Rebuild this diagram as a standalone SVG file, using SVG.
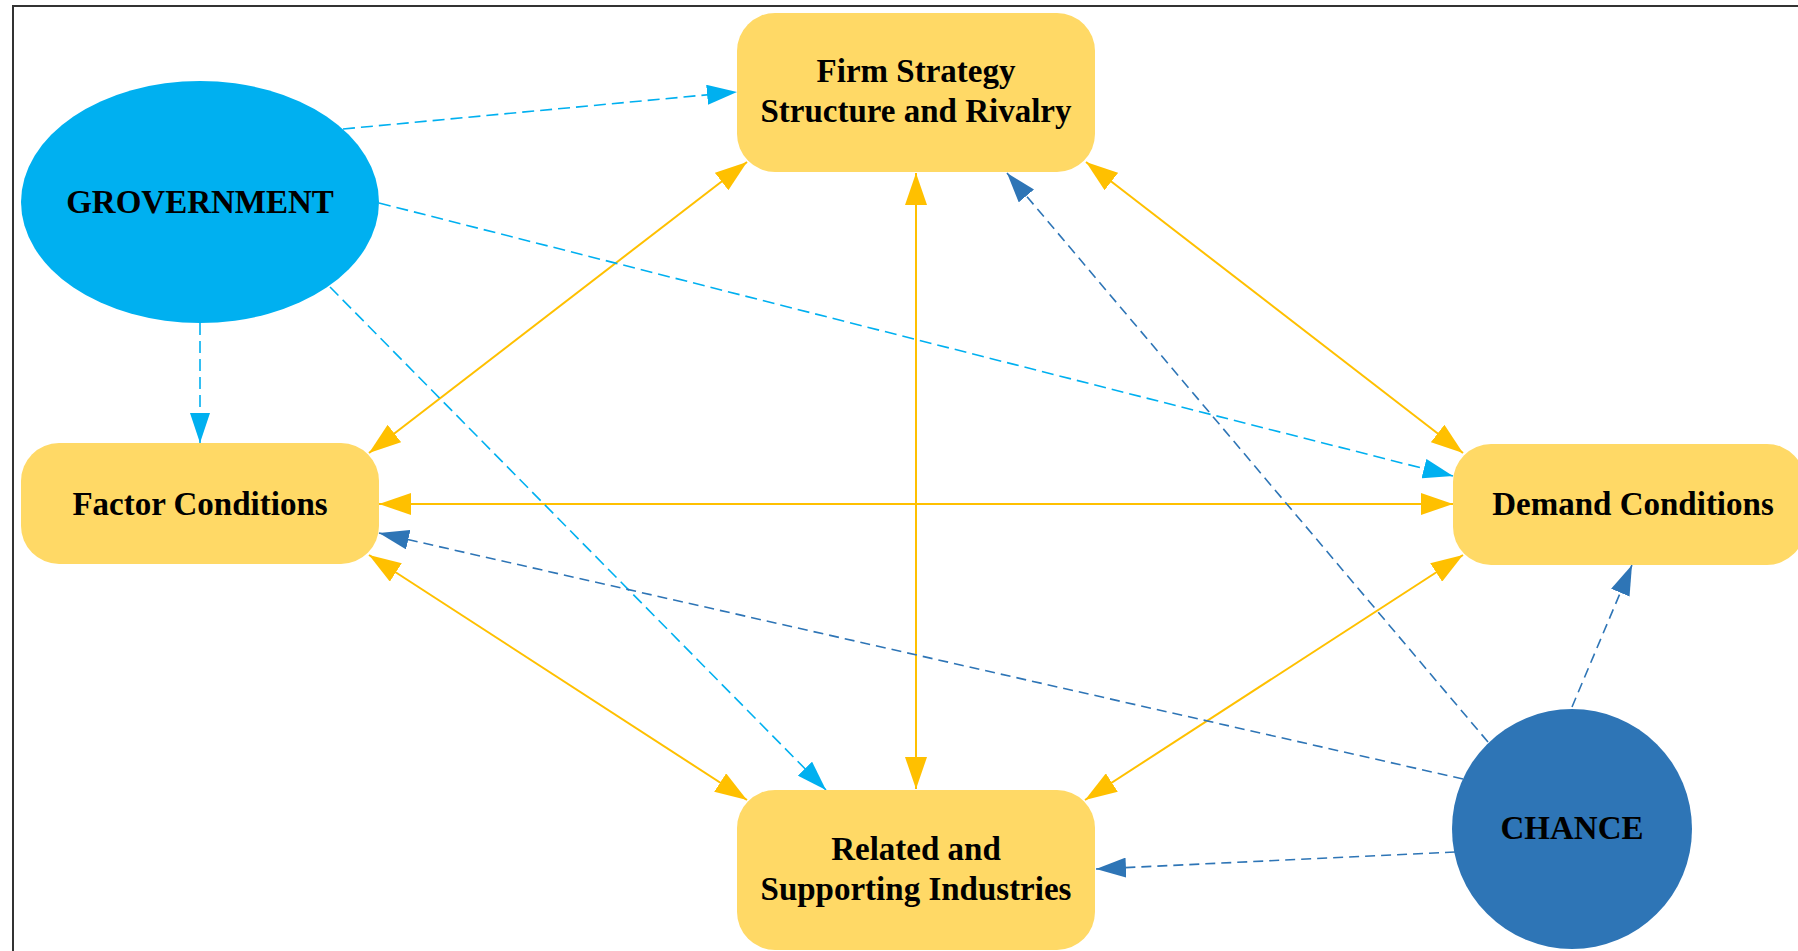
<svg xmlns="http://www.w3.org/2000/svg" width="1798" height="951" viewBox="0 0 1798 951">
  <style>
    .box { fill: #FFD966; }
    .lbl { font-family: "Liberation Serif", "Times New Roman", serif; font-weight: bold; font-size: 33px; fill: #000; text-anchor: middle; }
    .y { stroke: #FFC000; stroke-width: 2; fill: none; marker-end: url(#ay); marker-start: url(#ay); }
    .g { stroke: #00B0F0; stroke-width: 1.6; fill: none; stroke-dasharray: 12 6; marker-end: url(#ag); }
    .c { stroke: #2E75B6; stroke-width: 1.6; fill: none; stroke-dasharray: 10 6; marker-end: url(#ac); }
  </style>
  <defs>
    <marker id="ay" viewBox="0 0 32 22" refX="32" refY="11" markerWidth="32" markerHeight="22" markerUnits="userSpaceOnUse" orient="auto-start-reverse">
      <path d="M0,0 L32,11 L0,22 z" fill="#FFC000"/>
    </marker>
    <marker id="ag" viewBox="0 0 30 20" refX="30" refY="10" markerWidth="30" markerHeight="20" markerUnits="userSpaceOnUse" orient="auto">
      <path d="M0,0 L30,10 L0,20 z" fill="#00B0F0"/>
    </marker>
    <marker id="ac" viewBox="0 0 30 20" refX="30" refY="10" markerWidth="30" markerHeight="20" markerUnits="userSpaceOnUse" orient="auto">
      <path d="M0,0 L30,10 L0,20 z" fill="#2E75B6"/>
    </marker>
  </defs>
  <rect width="1798" height="951" fill="#fff"/>
  <rect x="13" y="6" width="1800" height="1000" fill="none" stroke="#333" stroke-width="2"/>
  <g id="connectors">
    <line class="y" x1="747" y1="162" x2="369" y2="453"/>
    <line class="y" x1="916" y1="173" x2="916" y2="789"/>
    <line class="y" x1="1086" y1="162" x2="1463" y2="453"/>
    <line class="y" x1="379" y1="504" x2="1453" y2="504"/>
    <line class="y" x1="369" y1="555" x2="747" y2="800"/>
    <line class="y" x1="1463" y1="555" x2="1085" y2="800"/>
    <line class="g" x1="343" y1="129" x2="737" y2="92"/>
    <line class="g" x1="379" y1="203" x2="1453" y2="476"/>
    <line class="g" x1="200" y1="323" x2="200" y2="443"/>
    <line class="g" x1="330" y1="287" x2="826" y2="790"/>
    <line class="c" x1="1488" y1="742" x2="1007" y2="173"/>
    <line class="c" x1="1463" y1="779" x2="379" y2="533"/>
    <line class="c" x1="1455" y1="852" x2="1096" y2="869"/>
    <line class="c" x1="1572" y1="707" x2="1632" y2="565"/>
  </g>
  <g id="firm">
    <rect class="box" x="737" y="13" width="358" height="159" rx="38"/>
    <text class="lbl" x="916" y="82">Firm Strategy</text>
    <text class="lbl" x="916" y="122">Structure and Rivalry</text>
  </g>
  <g id="government">
    <ellipse cx="200" cy="202" rx="179" ry="121" fill="#00B0F0"/>
    <text class="lbl" x="200" y="213">GROVERNMENT</text>
  </g>
  <g id="factor">
    <rect class="box" x="21" y="443" width="358" height="121" rx="38"/>
    <text class="lbl" x="200" y="515">Factor Conditions</text>
  </g>
  <g id="demand">
    <rect class="box" x="1453" y="444" width="352" height="121" rx="38"/>
    <text class="lbl" x="1633" y="515">Demand Conditions</text>
  </g>
  <g id="related">
    <rect class="box" x="737" y="790" width="358" height="160" rx="38"/>
    <text class="lbl" x="916" y="860">Related and</text>
    <text class="lbl" x="916" y="900">Supporting Industries</text>
  </g>
  <g id="chance">
    <circle cx="1572" cy="829" r="120" fill="#2E75B6"/>
    <text class="lbl" x="1572" y="839">CHANCE</text>
  </g>
</svg>
